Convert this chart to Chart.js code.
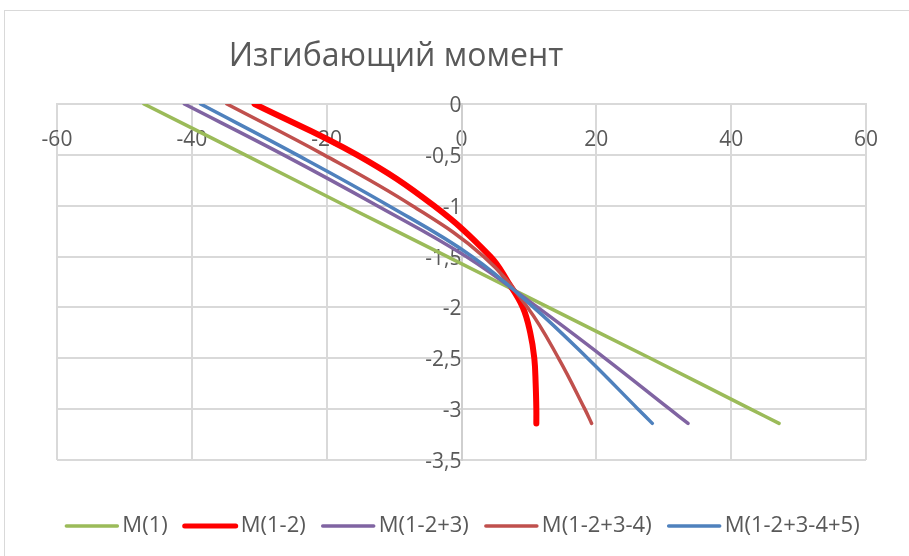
<!DOCTYPE html>
<html lang="ru">
<head>
<meta charset="utf-8">
<title>Изгибающий момент</title>
<script src="https://cdn.jsdelivr.net/npm/chart.js@4/dist/chart.umd.min.js"></script>
<style>
  html, body { margin: 0; padding: 0; background: #ffffff; overflow: hidden; }
  #wrap { position: relative; width: 909px; height: 556px; overflow: hidden; }
  #frame { position: absolute; left: 4px; top: 10px; width: 1000px; height: 1000px;
           border: 1px solid #d9d9d9; box-sizing: border-box; }
  #chart { position: absolute; left: 0; top: 0; }
</style>
</head>
<body>
<div id="wrap">
  <div id="frame"></div>
  <canvas id="chart" width="909" height="556"></canvas>
</div>
<script>
const FONT = '"Open Sans", "Noto Sans", sans-serif';
const TEXT_COLOR = '#595959';
const GRID_COLOR = '#d9d9d9';

const chartTitle = 'Изгибающий момент';

// axis ticks
const xTicks = [-60, -40, -20, 0, 20, 40, 60];
const yTicks = [0, -0.5, -1, -1.5, -2, -2.5, -3, -3.5];

// depth levels (y) shared by most of the moment curves
const depth = [0, -0.5, -1, -1.5, -2, -2.5, -3, -3.14];
const m1 = [-47.1, -32.1, -17.2, -2.1, 12.9, 28.0, 42.9, 47.1];
const m123 = [-41.1, -26.4, -12.5, 0.7, 11.3, 21.3, 30.9, 33.6];
const m1234 = [-34.8, -20.4, -7.3, 3.3, 9.8, 14.4, 18.3, 19.3];
const m12345 = [-38.7, -24.4, -10.8, 1.6, 10.7, 18.7, 26.2, 28.3];

// M(1-2) bends sharply near the bottom, so it is sampled more densely
const depth12 = [0, -0.5, -1, -1.5, -1.75, -2, -2.25, -2.5, -2.75, -3, -3.14];
const m12 = [-30.7, -15.5, -4.1, 4.3, 6.9, 9.1, 10.2, 10.8, 11.0, 11.1, 11.1];

const seriesNames = ['M(1)', 'M(1-2)', 'M(1-2+3)', 'M(1-2+3-4)', 'M(1-2+3-4+5)'];
const seriesX = [m1, m12, m123, m1234, m12345];
const seriesY = [depth, depth12, depth, depth, depth];
const seriesColors = ['#9BBB59', '#FF0000', '#8064A2', '#C0504D', '#4F81BD'];
const seriesWidths = [3.5, 6, 3.5, 3.5, 3.5];

const datasets = seriesNames.map((name, i) => ({
  label: name,
  data: seriesX[i].map((x, k) => ({ x: x, y: seriesY[i][k] })),
  borderColor: seriesColors[i],
  backgroundColor: seriesColors[i],
  borderWidth: seriesWidths[i],
  showLine: true,
  fill: false,
  pointRadius: 0,
  tension: 0.4,
  borderCapStyle: 'round',
  borderJoinStyle: 'round',
  // later series are painted on top
  order: seriesNames.length - i
}));

const fmt = v => {
  const r = Math.round(v * 10) / 10;
  return String(r).replace('.', ',');
};

// title drawn as canvas text
const titlePlugin = {
  id: 'chartTitleText',
  afterDraw(chart) {
    const ctx = chart.ctx;
    ctx.save();
    ctx.font = '32px ' + FONT;
    ctx.fillStyle = TEXT_COLOR;
    ctx.textAlign = 'center';
    ctx.textBaseline = 'alphabetic';
    ctx.fillText(chartTitle, 396, 66);
    ctx.restore();
  }
};

// legend row under the plot
const legendPlugin = {
  id: 'bottomLegend',
  afterDraw(chart) {
    const ctx = chart.ctx;
    const swatch = 55, gap = 3, spacing = 15;
    const cy = 526;
    ctx.save();
    ctx.font = '22px ' + FONT;
    const items = chart.data.datasets.map(ds => ({
      ds: ds, w: swatch + gap + ctx.measureText(ds.label).width
    }));
    const total = items.reduce((s, it) => s + it.w, 0) + spacing * (items.length - 1);
    let x = 462 - total / 2;
    items.forEach(it => {
      ctx.strokeStyle = it.ds.borderColor;
      ctx.lineWidth = Math.min(it.ds.borderWidth, 5);
      ctx.lineCap = 'round';
      ctx.beginPath();
      ctx.moveTo(x + 2, cy);
      ctx.lineTo(x + swatch - 2, cy);
      ctx.stroke();
      ctx.fillStyle = TEXT_COLOR;
      ctx.textAlign = 'left';
      ctx.textBaseline = 'middle';
      ctx.fillText(it.ds.label, x + swatch + gap, cy);
      x += it.w + spacing;
    });
    ctx.restore();
  }
};

new Chart(document.getElementById('chart'), {
  type: 'scatter',
  data: { datasets: datasets },
  plugins: [titlePlugin, legendPlugin],
  options: {
    responsive: false,
    animation: false,
    devicePixelRatio: 1,
    layout: { padding: { left: 57, top: 104, right: 43, bottom: 96 } },
    plugins: {
      legend: { display: false },
      title: { display: false },
      tooltip: { enabled: false }
    },
    scales: {
      x: {
        type: 'linear',
        position: { y: 0 },
        min: -60, max: 60,
        afterBuildTicks: s => { s.ticks = xTicks.map(v => ({ value: v })); },
        grid: { color: GRID_COLOR, lineWidth: 2, drawTicks: false },
        border: { color: GRID_COLOR, width: 2 },
        ticks: {
          padding: 23, color: TEXT_COLOR, autoSkip: false, maxRotation: 0,
          font: { family: FONT, size: 21 },
          callback: v => fmt(v)
        }
      },
      y: {
        type: 'linear',
        position: { x: 0 },
        min: -3.5, max: 0,
        afterBuildTicks: s => { s.ticks = yTicks.map(v => ({ value: v })); },
        grid: { color: GRID_COLOR, lineWidth: 2, drawTicks: false },
        border: { color: '#cfcfcf', width: 2 },
        ticks: {
          padding: 24, labelOffset: 2, color: TEXT_COLOR, autoSkip: false,
          font: { family: FONT, size: 21 },
          callback: v => fmt(v)
        }
      }
    }
  }
});
</script>
</body>
</html>
